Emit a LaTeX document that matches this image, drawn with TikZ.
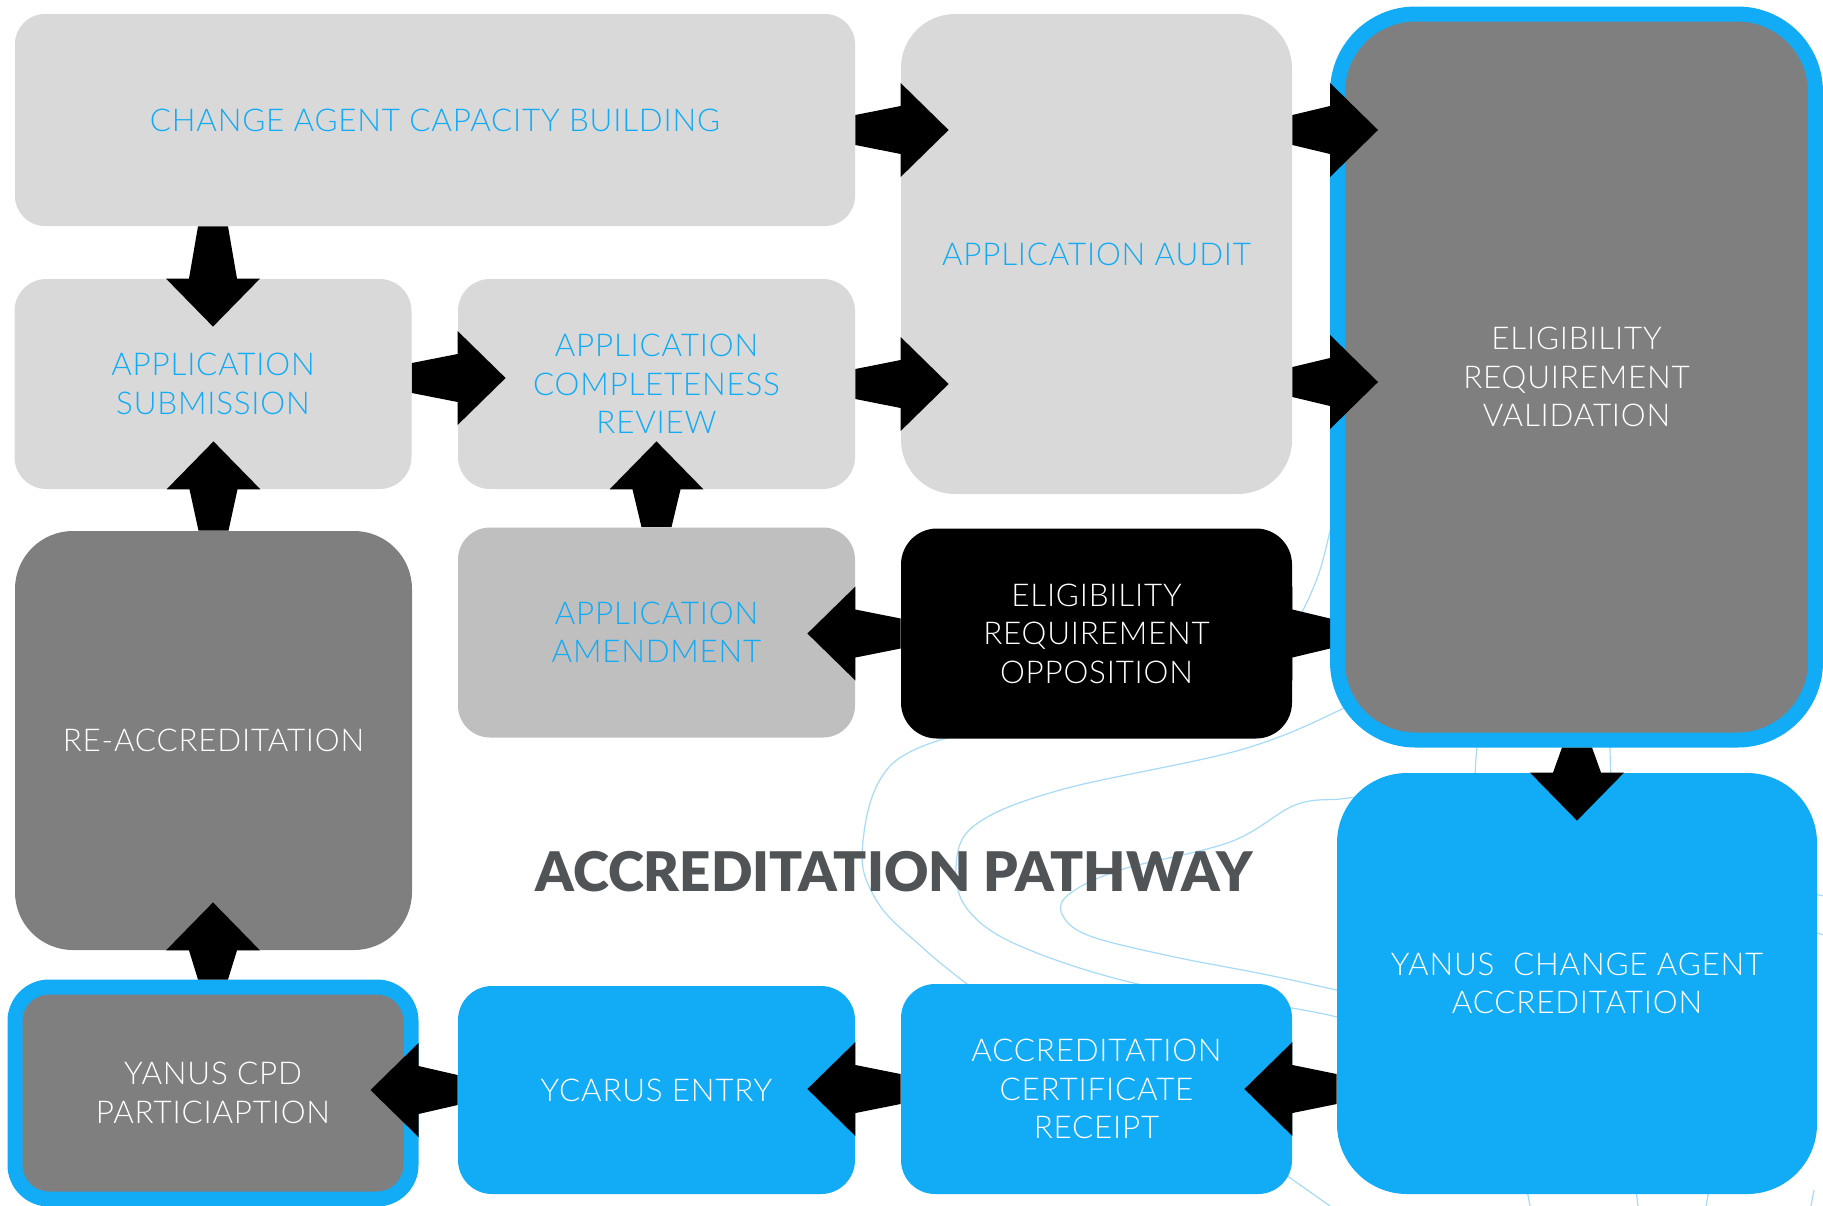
\documentclass[tikz,border=0pt]{standalone}
\usepackage{fontspec}
\newfontfamily\boxfont{Lato Light}[LetterSpace=2.5]
\newfontfamily\titlefont{Lato Black}
\usetikzlibrary{calc}
\definecolor{boxlight}{HTML}{D9D9D9}
\definecolor{boxmid}{HTML}{BFBFBF}
\definecolor{boxdark}{HTML}{7F7F7F}
\definecolor{pathblue}{HTML}{12ABF5}
\definecolor{contourblue}{HTML}{A6DAF6}
\definecolor{titlegray}{HTML}{505457}
\tikzset{
	stage/.style={rectangle, rounded corners=16pt, align=center, inner sep=0pt, minimum width=198.5pt, minimum height=105pt, font=\boxfont\fontsize{15.7}{19.2}\selectfont},
	lightstage/.style={stage, fill=boxlight, text=pathblue},
	darkstage/.style={stage, fill=boxdark, text=white},
	bluestage/.style={stage, fill=pathblue, text=white},
	ringstage/.style={darkstage, draw=pathblue, line width=7.5pt},
	contour/.style={contourblue, line width=0.6pt},
	pathway/.style={fill=black},
}
\newcommand{\fatarrow}[2]{%
	\path (#1) coordinate (fa-s) (#2) coordinate (fa-t);
	\fill[pathway] ($(fa-s)!7.5pt!90:(fa-t)$) -- ($(fa-t)!12pt!-90:(fa-s)$) -- ($(fa-t)!23.5pt!-90:(fa-s)$)
		-- ($(fa-t)!-24pt!(fa-s)$) -- ($(fa-t)!23.5pt!90:(fa-s)$) -- ($(fa-t)!12pt!90:(fa-s)$)
		-- ($(fa-s)!7.5pt!-90:(fa-t)$) -- cycle;}
\begin{document}
\begin{tikzpicture}[x=0.5pt, y=-0.5pt]
\useasboundingbox (0,0) rectangle (1823,1205);
% background contours
\draw[contour] plot[smooth, tension=0.7] coordinates {(955,736) (889,767) (863,841) (875,898) (923,948) (975,990)};
\draw[contour] plot[smooth, tension=0.6] coordinates {(1365,692) (1340,710) (1240,750) (1060,790) (975,825) (956,867) (968,910) (1020,946) (1138,984) (1292,1008) (1345,1019)};
\draw[contour] plot[smooth, tension=0.6] coordinates {(1365,796) (1340,799) (1295,805) (1230,842) (1120,870) (1068,895) (1063,916) (1090,936) (1170,956) (1268,975) (1345,992)};
\draw[contour] plot[smooth] coordinates {(1288,628) (1303,610) (1320,570) (1333,518)};
\draw[contour] (1478,740) .. controls (1476,755) .. (1475,778);
\draw[contour] (1610,740) .. controls (1610,755) .. (1611,778);
\draw[contour] (1286,1175) -- (1330,1206);
\foreach \x/\y in {1527/1530,1636/1638,1709/1706,1814/1811}
	\draw[contour] (\x,1190) -- (\y,1206);
\draw[contour] (1814,894) -- (1824,896);
\draw[contour] (1814,932) -- (1824,935);

\node (cap) [lightstage, minimum width=420pt, minimum height=106pt, rounded corners=15pt] at (435,120) {CHANGE AGENT CAPACITY BUILDING};
\node (audit) [lightstage, minimum width=195.5pt, minimum height=240pt, rounded corners=27pt] at (1096.5,254) {APPLICATION AUDIT};
\node (valid) [ringstage, minimum width=239pt, minimum height=363pt, rounded corners=39pt] at (1576.5,377) {ELIGIBILITY\\REQUIREMENT\\VALIDATION};
\node (sub) [lightstage] at (213,384) {APPLICATION\\SUBMISSION};
\node (rev) [lightstage] at (656.5,384) {APPLICATION\\COMPLETENESS\\REVIEW};
\node (reacc) [darkstage, minimum height=209.5pt, rounded corners=29pt] at (213.5,740.5) {RE-ACCREDITATION};
\node (amend) [lightstage, fill=boxmid] at (656.5,632.5) {APPLICATION\\AMENDMENT};
\node (opp) [stage, fill=black, text=white, minimum width=195.5pt, rounded corners=18pt] at (1096.5,633.5) {ELIGIBILITY\\REQUIREMENT\\OPPOSITION};
\node (yca) [bluestage, minimum width=240pt, minimum height=210.5pt, rounded corners=35pt] at (1577,983.5) {YANUS\ \ CHANGE AGENT\\ACCREDITATION};
\node (cert) [bluestage, minimum width=195.5pt, rounded corners=17pt] at (1096.5,1089) {ACCREDITATION\\CERTIFICATE\\RECEIPT};
\node (ycarus) [bluestage, minimum height=104pt, rounded corners=17pt] at (656.5,1090) {YCARUS ENTRY};
\node (cpd) [ringstage, minimum width=198pt, minimum height=106pt, rounded corners=17pt] at (213,1093) {YANUS CPD\\PARTICIAPTION};
\node (title) [font=\titlefont\fontsize{27.3}{30}\selectfont, text=titlegray] at (894,872) {ACCREDITATION PATHWAY};

\fatarrow{$(cap.east)+(0,10)$}{$(cap.east -| audit.west)+(0,10)$}
\fatarrow{$(audit.east)+(0,-124)$}{$(audit.east -| valid.west)+(0,-124)$}
\fatarrow{$(audit.east)+(0,128)$}{$(audit.east -| valid.west)+(0,128)$}
\fatarrow{rev.east}{rev.east -| audit.west}
\fatarrow{$(sub.east)+(0,-6)$}{$(sub.east -| rev.west)+(0,-6)$}
\fatarrow{sub.north |- cap.south}{sub.north}
\fatarrow{reacc.north}{reacc.north |- sub.south}
\fatarrow{amend.north}{amend.north |- rev.south}
\fatarrow{opp.west}{opp.west -| amend.east}
\fatarrow{valid.west |- opp.east}{opp.east}
\fatarrow{valid.south -| yca.north}{yca.north}
\fatarrow{yca.west |- cert.east}{cert.east}
\fatarrow{cert.west}{cert.west -| ycarus.east}
\fatarrow{ycarus.west}{ycarus.west -| cpd.east}
\fatarrow{cpd.north}{cpd.north |- reacc.south}
\end{tikzpicture}
\end{document}
